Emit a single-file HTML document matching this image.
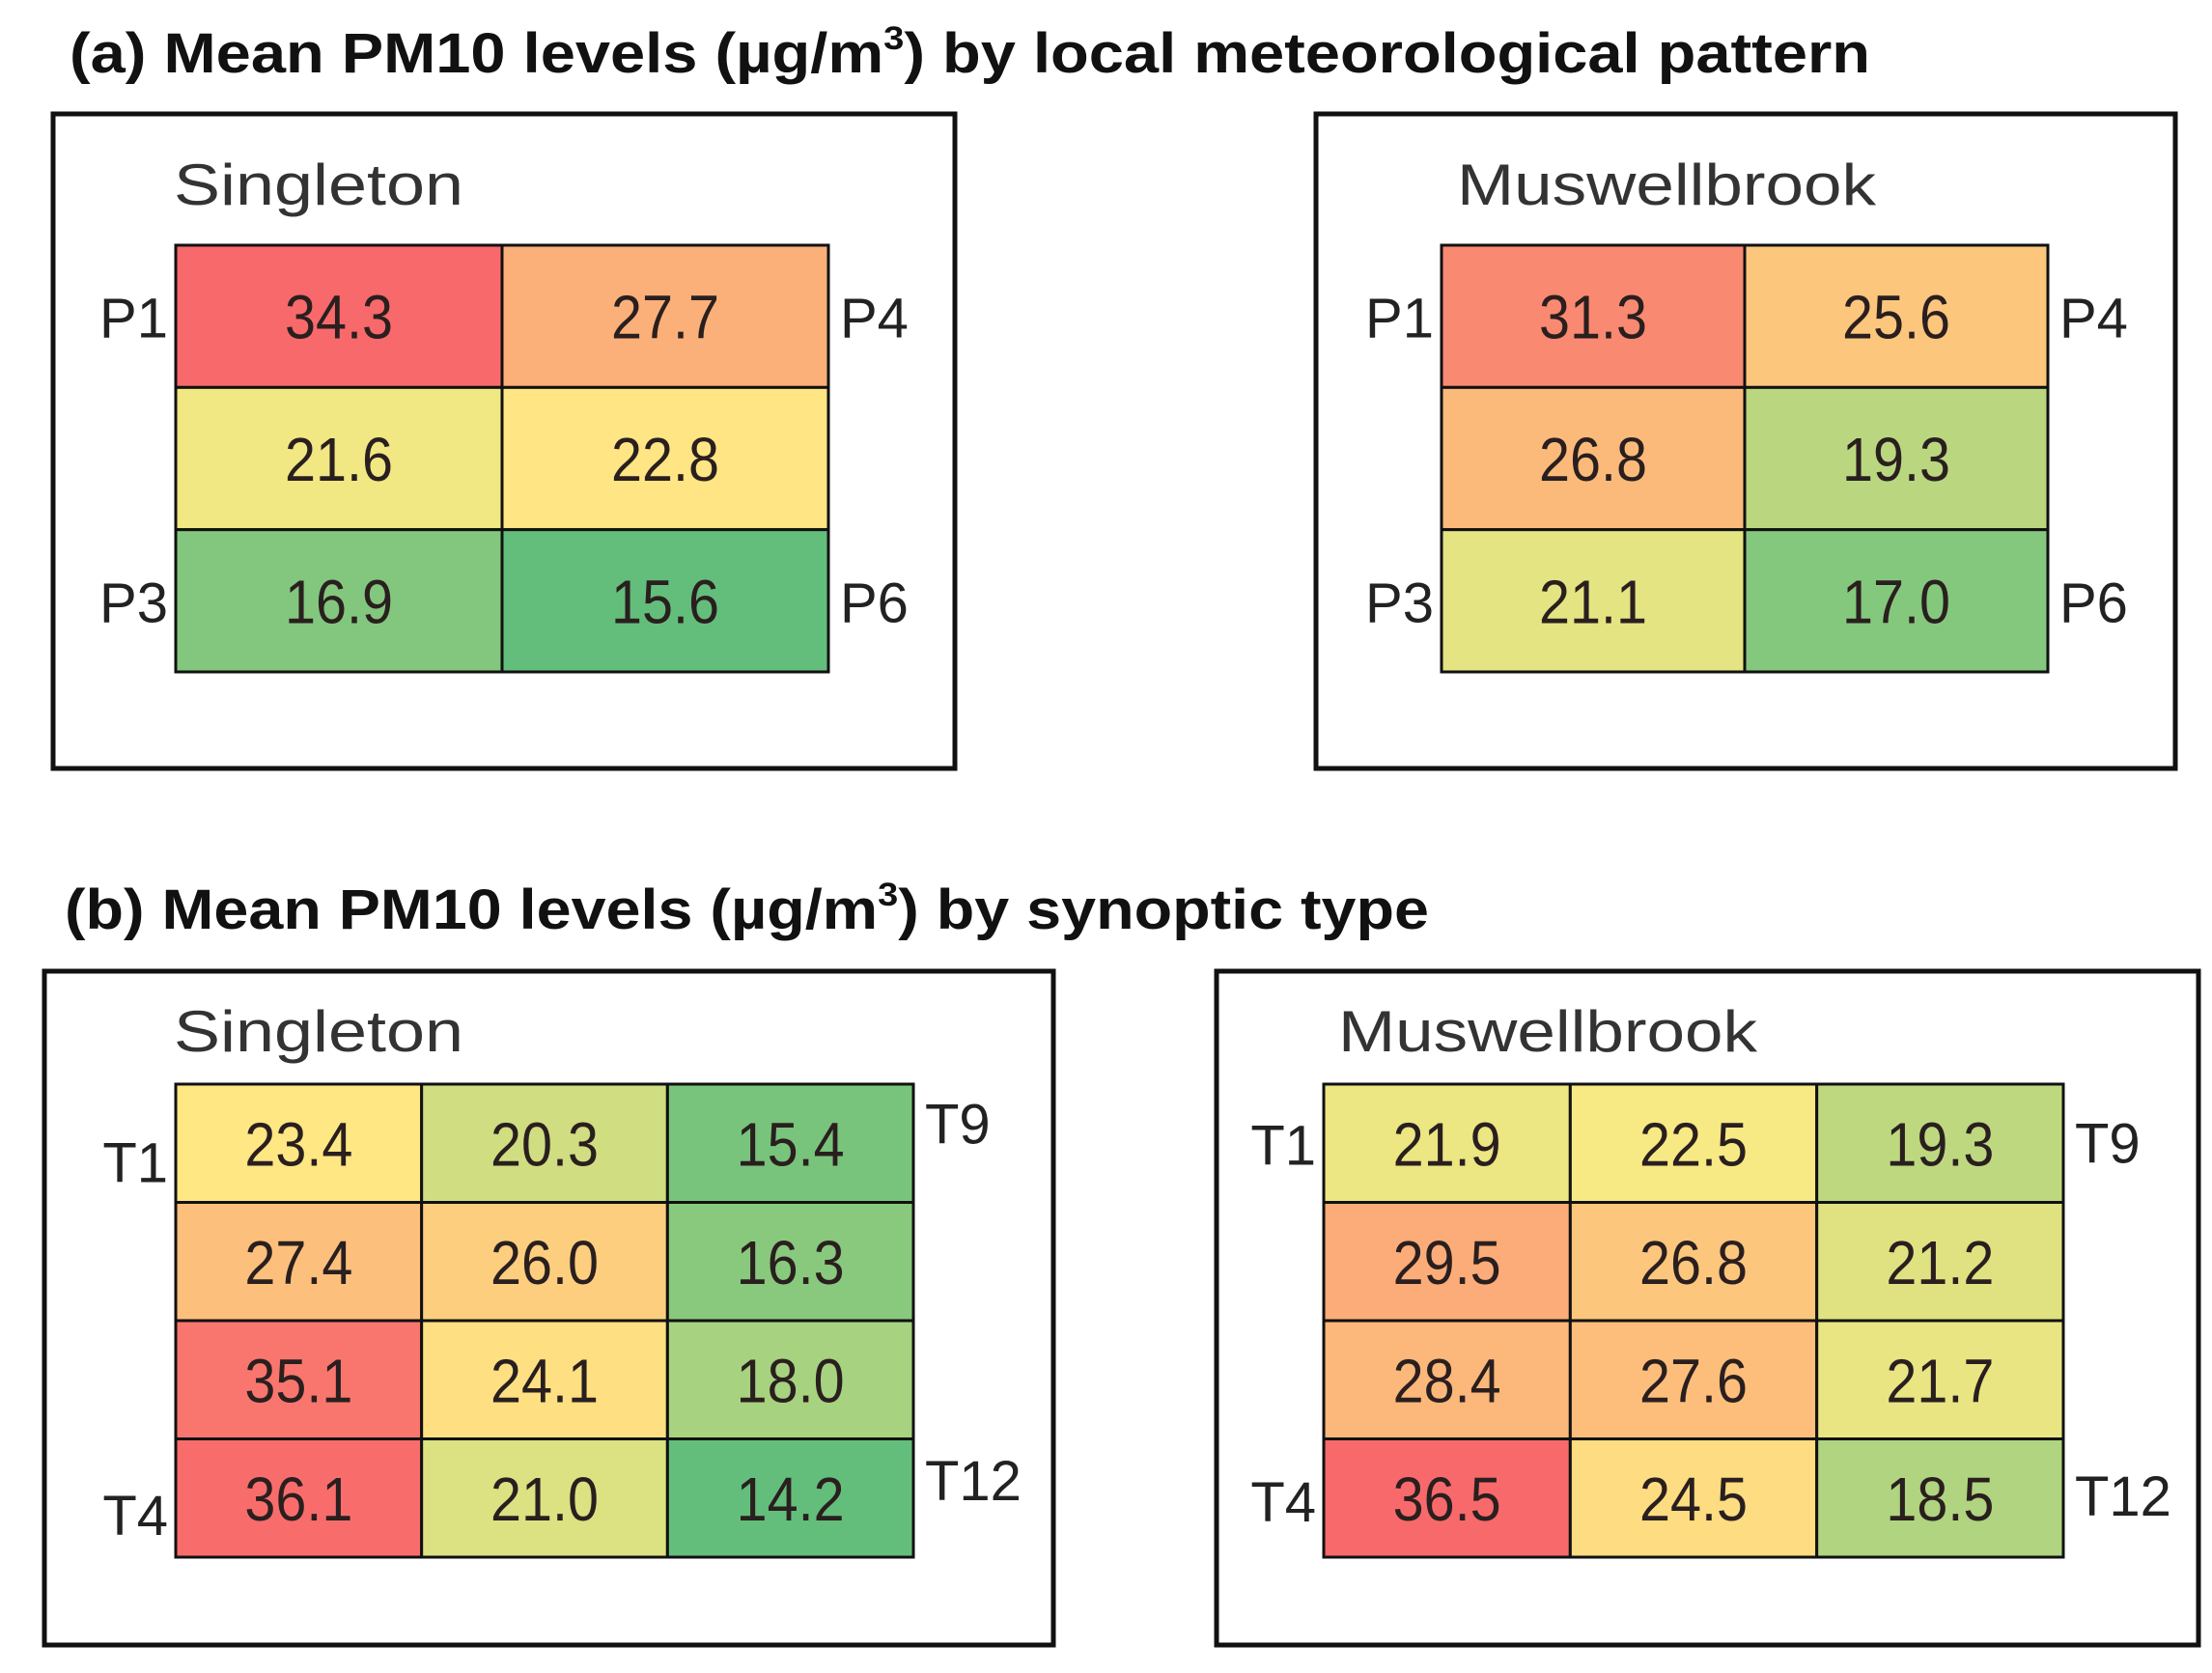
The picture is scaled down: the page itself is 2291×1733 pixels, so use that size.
<!DOCTYPE html>
<html><head><meta charset="utf-8"><style>
html,body{margin:0;padding:0;background:#fff;}
svg{display:block;}
</style></head><body>
<svg id="chart" width="2291" height="1733" viewBox="0 0 2291 1733" xmlns="http://www.w3.org/2000/svg">
<rect width="2291" height="1733" fill="#fff"/>
<text x="72" y="75" font-family="Liberation Sans, sans-serif" font-weight="bold" font-size="58" fill="#111" textLength="1865" lengthAdjust="spacingAndGlyphs">(a) Mean PM10 levels (µg/m<tspan font-size="34" dy="-24">3</tspan><tspan dy="24">) by local meteorological pattern</tspan></text>
<text x="67" y="962" font-family="Liberation Sans, sans-serif" font-weight="bold" font-size="58" fill="#111" textLength="1413" lengthAdjust="spacingAndGlyphs">(b) Mean PM10 levels (µg/m<tspan font-size="34" dy="-24">3</tspan><tspan dy="24">) by synoptic type</tspan></text>
<g id="panels"></g>
</svg>
<script>
// Panel data
const singletonPatternValues = [[34.3, 27.7], [21.6, 22.8], [16.9, 15.6]];
const muswellbrookPatternValues = [[31.3, 25.6], [26.8, 19.3], [21.1, 17.0]];
const singletonSynopticValues = [[23.4, 20.3, 15.4], [27.4, 26.0, 16.3], [35.1, 24.1, 18.0], [36.1, 21.0, 14.2]];
const muswellbrookSynopticValues = [[21.9, 22.5, 19.3], [29.5, 26.8, 21.2], [28.4, 27.6, 21.7], [36.5, 24.5, 18.5]];
const patternLeftLabels = ["P1", "", "P3"];
const patternRightLabels = ["P4", "", "P6"];
const synopticLeftLabels = ["T1", "", "", "T4"];
const synopticRightLabels = ["T9", "", "", "T12"];
const stationNames = ["Singleton", "Muswellbrook"];

const NS = "http://www.w3.org/2000/svg";
const root = document.getElementById('panels');
function mk(tag, attrs, parent){ const e = document.createElementNS(NS, tag); for (const k in attrs) e.setAttribute(k, attrs[k]); (parent||root).appendChild(e); return e; }

function lerp(a,b,t){return Math.round(a+(b-a)*t);}
function mix(c1,c2,t){t=Math.max(0,Math.min(1,t));return 'rgb('+lerp(c1[0],c2[0],t)+','+lerp(c1[1],c2[1],t)+','+lerp(c1[2],c2[2],t)+')';}
const GREEN=[99,190,123], YEL=[255,235,132], RED=[248,105,107];
function colorScale(values){
  const flat = values.flat().slice().sort((a,b)=>a-b);
  const mn = flat[0], mx = flat[flat.length-1];
  const n = flat.length; const mid = n%2 ? flat[(n-1)/2] : (flat[n/2-1]+flat[n/2])/2;
  return v => v<=mid ? mix(GREEN,YEL,(v-mn)/((mid-mn)||1)) : mix(YEL,RED,(v-mid)/((mx-mid)||1));
}
const patternScale = colorScale(singletonPatternValues.concat(muswellbrookPatternValues));
const synopticScale = colorScale(singletonSynopticValues.concat(muswellbrookSynopticValues));

function panel(cfg){
  const g = mk('g', {});
  
  
  const box = mk('rect', {x:cfg.box[0], y:cfg.box[1], width:cfg.box[2], height:cfg.box[3], fill:'none', stroke:'#111', 'stroke-width':5}, g);
  
  
  const st = mk('text', {x:cfg.stationPos[0], y:cfg.stationPos[1], 'font-family':'Liberation Sans, sans-serif', 'font-size':60, fill:'#333', textLength:cfg.stationW, lengthAdjust:'spacingAndGlyphs'}, g);
  st.textContent = cfg.station;
  
  
  const vals = cfg.values, rows = vals.length, cols = vals[0].length;
  const [gx, gy, gw, gh] = cfg.grid;
  const cw = gw/cols, ch = gh/rows;
  const col = cfg.scale;
  for (let r=0;r<rows;r++) for (let c=0;c<cols;c++){
    const v = vals[r][c];
    const cell = mk('rect', {x:gx+c*cw, y:gy+r*ch, width:cw, height:ch, fill:col(v), stroke:'#111', 'stroke-width':3}, g);
    
    
    const s = v.toFixed(1);
    const t = mk('text', {x:gx+(c+0.5)*cw, y:gy+(r+0.5)*ch+23, 'text-anchor':'middle', 'font-family':'Liberation Sans, sans-serif', 'font-size':64, fill:'#2a1f1f', textLength:(s.length-1)*32+16, lengthAdjust:'spacingAndGlyphs'}, g);
    t.textContent = s;
    
    
  }
  cfg.left.forEach((lab,r)=>{ if(!lab) return;
    const off = cfg.labelOff ? (r===0? cfg.labelOff[0] : cfg.labelOff[1]) : 0;
    const t = mk('text', {x:gx-8, y:gy+(r+0.5)*ch+22+off, 'text-anchor':'end', 'font-family':'Liberation Sans, sans-serif', 'font-size':58, fill:'#222'}, g);
    t.textContent = lab;
    
    
  });
  cfg.right.forEach((lab,r)=>{ if(!lab) return;
    const off = cfg.labelOffR ? (r===0? cfg.labelOffR[0] : cfg.labelOffR[1]) : 0;
    const t = mk('text', {x:gx+gw+12, y:gy+(r+0.5)*ch+22+off, 'text-anchor':'start', 'font-family':'Liberation Sans, sans-serif', 'font-size':58, fill:'#222'}, g);
    t.textContent = lab;
    
    
  });
}

panel({name:'singleton-pattern-panel', box:[55,118,934,678], station:stationNames[0], stationPos:[180,212], stationW:300, scale:patternScale,
  values:singletonPatternValues, grid:[182,254,676,442], left:patternLeftLabels, right:patternRightLabels});
panel({name:'muswellbrook-pattern-panel', box:[1363,118,890,678], station:stationNames[1], stationPos:[1509,212], stationW:434, scale:patternScale,
  values:muswellbrookPatternValues, grid:[1493,254,628,442], left:patternLeftLabels, right:patternRightLabels});
panel({name:'singleton-synoptic-panel', box:[46,1006,1045,698], station:stationNames[0], stationPos:[180,1089], stationW:300, scale:synopticScale,
  values:singletonSynopticValues, grid:[182,1123,764,490], left:synopticLeftLabels, right:synopticRightLabels, labelOff:[18,16], labelOffR:[-22,-20]});
panel({name:'muswellbrook-synoptic-panel', box:[1260,1006,1017,698], station:stationNames[1], stationPos:[1386,1089], stationW:434, scale:synopticScale,
  values:muswellbrookSynopticValues, grid:[1371,1123,766,490], left:synopticLeftLabels, right:synopticRightLabels, labelOff:[0,2], labelOffR:[-2,-4]});
</script>
</body></html>
